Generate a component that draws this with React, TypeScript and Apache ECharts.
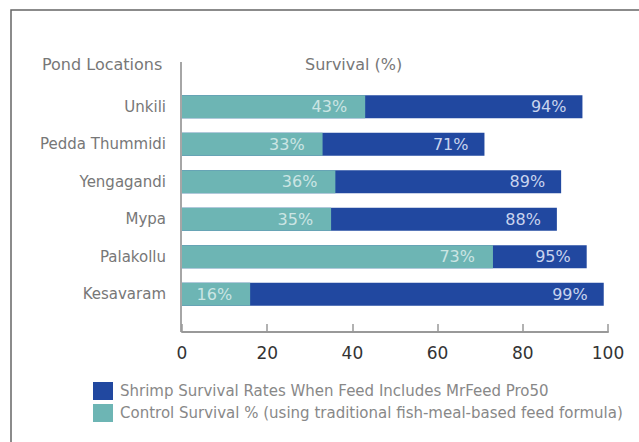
import React, { useEffect, useRef } from "react";
import * as echarts from "echarts";

const categories = ["Unkili", "Pedda Thummidi", "Yengagandi", "Mypa", "Palakollu", "Kesavaram"];
const mrFeedValues = [94, 71, 89, 88, 95, 99];
const controlValues = [43, 33, 36, 35, 73, 16];
const xTicks = [0, 20, 40, 60, 80, 100];
const seriesNames = [
  "Shrimp Survival Rates When Feed Includes MrFeed Pro50",
  "Control Survival % (using traditional fish-meal-based feed formula)",
];

const FONT = "'DejaVu Sans', 'Open Sans', sans-serif";

export default function App() {
  const ref = useRef<HTMLDivElement>(null);
  useEffect(() => {
    if (!ref.current) return;
    const chart = echarts.init(ref.current, undefined, { renderer: "svg" });
    chart.setOption({
      animation: false,
      backgroundColor: "#ffffff",
      textStyle: { fontFamily: FONT },
      grid: { left: 182, right: 31, top: 88, height: 225, containLabel: false },
      xAxis: {
        type: "value",
        min: xTicks[0],
        max: xTicks[xTicks.length - 1],
        interval: 20,
        offset: 19,
        splitLine: { show: false },
        axisLine: { show: true, lineStyle: { color: "#999", width: 2 } },
        axisTick: { show: true, inside: true, length: 8, lineStyle: { color: "#999", width: 1.5 } },
        axisLabel: { color: "#333", fontSize: 17, margin: 12, fontFamily: FONT },
      },
      yAxis: {
        type: "category",
        data: categories,
        inverse: true,
        axisLine: { show: false },
        axisTick: { show: false },
        axisLabel: { color: "#777", fontSize: 15, margin: 16, fontFamily: FONT },
      },
      legend: {
        orient: "vertical",
        left: 88,
        top: 377,
        itemWidth: 20,
        itemHeight: 18,
        itemGap: 4,
        icon: "rect",
        textStyle: { color: "#888", fontSize: 15, fontFamily: FONT, padding: [0, 0, 0, 2] },
        data: seriesNames,
      },
      series: [
        {
          name: seriesNames[0],
          type: "bar",
          data: mrFeedValues,
          barWidth: 23,
          barGap: "-100%",
          itemStyle: { color: "#2148a0" },
          label: {
            show: true,
            position: "insideRight",
            distance: 16,
            formatter: "{c}%",
            color: "#c9d4ee",
            fontSize: 16,
            fontFamily: FONT,
          },
        },
        {
          name: seriesNames[1],
          type: "bar",
          data: controlValues,
          barWidth: 23,
          barGap: "-100%",
          itemStyle: { color: "#6db5b4" },
          label: {
            show: true,
            position: "insideRight",
            distance: 18,
            formatter: "{c}%",
            color: "rgba(235,245,245,0.75)",
            fontSize: 16,
            fontFamily: FONT,
          },
        },
      ],
      graphic: [
        {
          type: "rect",
          shape: { x: 11, y: 10, width: 700, height: 500 },
          style: { fill: "none", stroke: "#666", lineWidth: 1.5 },
          silent: true,
        },
        {
          type: "line",
          shape: { x1: 181, y1: 62, x2: 181, y2: 332 },
          style: { stroke: "#888", lineWidth: 1.5 },
          silent: true,
        },
        {
          type: "text",
          left: 42,
          top: 56,
          style: { text: "Pond Locations", fill: "#777", font: `16px ${FONT}` },
          silent: true,
        },
        {
          type: "text",
          left: 305,
          top: 56,
          style: { text: "Survival (%)", fill: "#777", font: `16px ${FONT}` },
          silent: true,
        },
      ],
    });
    return () => chart.dispose();
  }, []);
  return (
    <div
      ref={ref}
      style={{ position: "fixed", left: 0, top: 0, width: 639, height: 442 }}
    />
  );
}
